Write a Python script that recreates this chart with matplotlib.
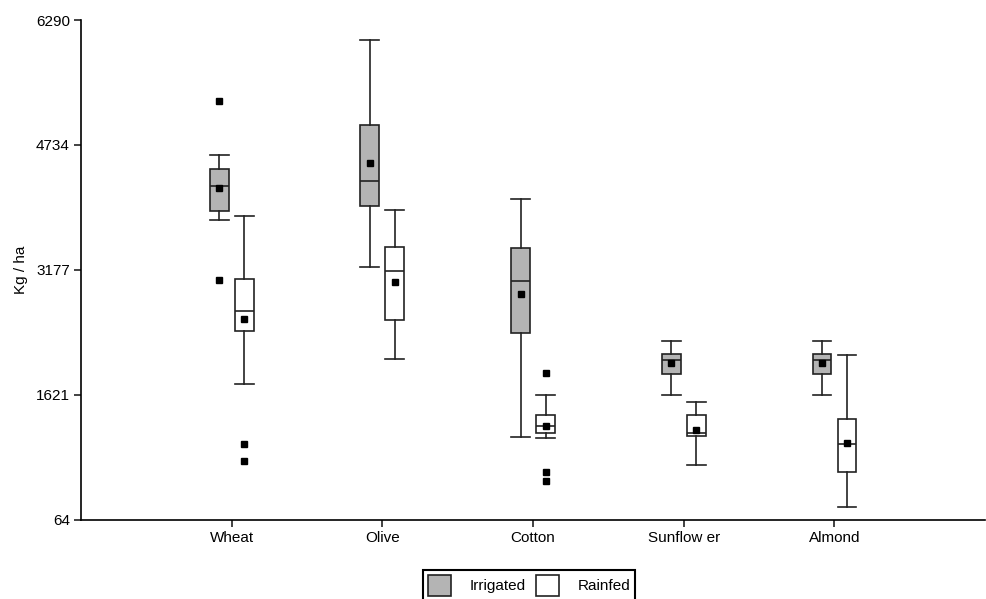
import matplotlib
matplotlib.use("Agg")
import matplotlib.pyplot as plt
from matplotlib.patches import Patch

plt.rcParams['font.family'] = ['Liberation Sans', 'DejaVu Sans']

crops = ['Wheat', 'Olive', 'Cotton', 'Sunflow er', 'Almond']
yticks = [64, 1621, 3177, 4734, 6290]

# box stats: whislo, q1, med, q3, whishi, mean, fliers
irr_whislo = [3800, 3214, 1097, 1624, 1624]
irr_q1 = [3915, 3970, 2393, 1882, 1882]
irr_med = [4223, 4289, 3044, 2053, 2053]
irr_q3 = [4438, 4986, 3451, 2131, 2131]
irr_whishi = [4609, 6041, 4061, 2297, 2297]
irr_mean = [4202, 4506, 2874, 2015, 2015]
irr_fliers = [[5285, 3052], [], [], [], []]

rf_whislo = [1754, 2069, 1081, 745, 230]
rf_q1 = [2417, 2558, 1144, 1106, 662]
rf_med = [2670, 3168, 1238, 1151, 1010]
rf_q3 = [3061, 3467, 1368, 1368, 1318]
rf_whishi = [3849, 3920, 1621, 1537, 2122]
rf_mean = [2571, 3031, 1231, 1181, 1019]
rf_fliers = [[1007, 799], [], [1891, 662, 546], [], []]


def make_stats(lo, q1, med, q3, hi, mean, fl):
    out = []
    for i in range(len(lo)):
        out.append(dict(whislo=lo[i], q1=q1[i], med=med[i], q3=q3[i],
                        whishi=hi[i], mean=mean[i], fliers=fl[i]))
    return out


fig = plt.figure(figsize=(9.87, 5.99), dpi=100)
ax = fig.add_axes([0.0821, 0.1319, 0.916, 0.8347])

pos = list(range(1, len(crops) + 1))
lc = '#222222'
lw = 1.2
common = dict(widths=0.125, capwidths=0.125, patch_artist=True, showmeans=True,
              whiskerprops=dict(color=lc, lw=lw),
              capprops=dict(color=lc, lw=lw),
              medianprops=dict(color=lc, lw=lw),
              meanprops=dict(marker='s', markerfacecolor='black',
                             markeredgecolor='black', markersize=5),
              flierprops=dict(marker='s', markerfacecolor='black',
                              markeredgecolor='black', markersize=5))

ax.bxp(make_stats(irr_whislo, irr_q1, irr_med, irr_q3, irr_whishi, irr_mean, irr_fliers),
       positions=[p - 0.083 for p in pos], boxprops=dict(facecolor='#b4b4b4', edgecolor=lc, lw=lw),
       **common)
ax.bxp(make_stats(rf_whislo, rf_q1, rf_med, rf_q3, rf_whishi, rf_mean, rf_fliers),
       positions=[p + 0.083 for p in pos], boxprops=dict(facecolor='white', edgecolor=lc, lw=lw),
       **common)

ax.set_xlim(0, 6)
ax.set_ylim(64, 6290)
ax.set_xticks(pos)
ax.set_xticklabels(crops, fontsize=11)
ax.set_yticks(yticks)
ax.set_yticklabels([str(t) for t in yticks], fontsize=11)
ax.set_ylabel('Kg / ha', fontsize=11, labelpad=6)
ax.spines['top'].set_visible(False)
ax.spines['right'].set_visible(False)
ax.spines['left'].set_linewidth(1.2)
ax.spines['bottom'].set_linewidth(1.2)
ax.tick_params(direction='out', length=5, width=1.2, color=lc, pad=3)

handles = [Patch(facecolor='#b4b4b4', edgecolor=lc, lw=1.2, label='Irrigated'),
           Patch(facecolor='white', edgecolor=lc, lw=1.2, label='Rainfed')]
leg = fig.legend(handles=handles, loc='upper center', bbox_to_anchor=(529 / 987, 1 - 570 / 599),
                 ncol=2, fontsize=11, fancybox=False, edgecolor='black', framealpha=1,
                 handlelength=1.5, handleheight=1.83, handletextpad=1.2, columnspacing=0.7,
                 borderpad=0.3, borderaxespad=0)
leg.get_frame().set_linewidth(1.5)

fig.savefig('out.png', dpi=100)
